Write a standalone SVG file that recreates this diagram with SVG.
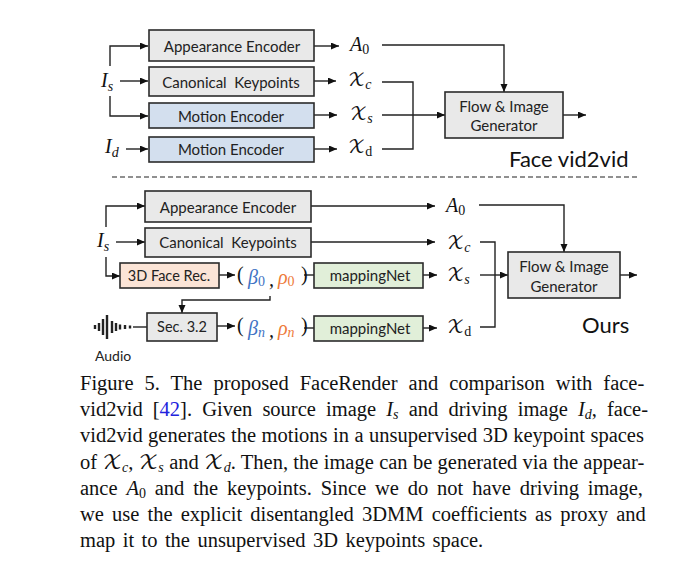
<svg xmlns="http://www.w3.org/2000/svg" width="694" height="586" viewBox="0 0 694 586">
<style>
.b{stroke:#2b2b2b;stroke-width:1.6}
.g{fill:#e9e9e9}.u{fill:#d3dfee}.o{fill:#fbe4d6}.n{fill:#e1efd9}
.t{font:15px Lato,sans-serif;fill:#222;text-anchor:middle;white-space:pre}
.l{fill:none;stroke:#222;stroke-width:1.4}
.a{marker-end:url(#ah)}
.m{font:italic 20px "Liberation Serif",serif;fill:#111}
.x{font:18px "DejaVu Math TeX Gyre","Liberation Serif",serif;fill:#111}
.s{font-size:14px}
.r{font:14px "Liberation Serif",serif}
.c{font:20.5px "Liberation Serif",serif;fill:#111}
.h{font:22px Lato,sans-serif;fill:#111}
.bl{fill:#3f73c4}.or{fill:#ee7a3a}
.w{stroke:#222;stroke-width:2.4}
</style>
<defs><marker id="ah" markerWidth="9" markerHeight="8" refX="8" refY="3.5" orient="auto" markerUnits="userSpaceOnUse"><path d="M0 0L8 3.5L0 7Z" fill="#111"/></marker></defs>
<rect width="694" height="586" fill="#fff"/>
<g id="connectors">
<path class="l a" d="M110 66V46H148"/><path class="l a" d="M120 81H148"/><path class="l a" d="M110 96V116H148"/><path class="l a" d="M126 149H148"/>
<path class="l a" d="M314 46H339"/><path class="l a" d="M314 81H336"/><path class="l a" d="M314 115H337"/><path class="l a" d="M314 149H337"/>
<path class="l a" d="M382 45H504V92"/><path class="l" d="M382 82H413V149H382"/><path class="l a" d="M382 115H445"/><path class="l a" d="M563 115H586"/>
<path d="M112 177H638" fill="none" stroke="#222" stroke-width="1.1" stroke-dasharray="5 3"/>
<path class="l a" d="M106 227V206H145"/><path class="l a" d="M116 242H145"/><path class="l a" d="M106 257V276H120"/>
<path class="l a" d="M311 206H435"/><path class="l a" d="M311 242H435"/>
<path class="l a" d="M219 275H235"/><path class="l a" d="M217 326H235"/>
<path class="l a" d="M270 296V300H182V313"/>
<path class="l" d="M133 327H147"/>
<path class="l" d="M304 275H314"/><path class="l" d="M304 328H314"/>
<path class="l a" d="M423 275H437"/><path class="l a" d="M423 328H437"/>
<path class="l a" d="M479 205H564V252"/><path class="l" d="M480 242H495V327H480"/><path class="l a" d="M480 275H508"/><path class="l a" d="M620 275H637"/>
</g>
<g id="audio-wave"><path class="w" d="M95 325V329M99 323V331M103 319V335M107 315V339M112 321V333M116 323V331M120 324.500V329.500M125 325V329M130 325.500V328.500"/></g>
<g id="top-appearance"><rect class="b g" x="149" y="30" width="165" height="31"/><text class="t" x="232" y="51.500">Appearance Encoder</text></g>
<g id="top-canonical"><rect class="b g" x="149" y="67" width="165" height="29"/><text class="t" x="231" y="87.500">Canonical  Keypoints</text></g>
<g id="top-motion-s"><rect class="b u" x="149" y="103" width="165" height="25"/><text class="t" x="231" y="122">Motion Encoder</text></g>
<g id="top-motion-d"><rect class="b u" x="149" y="137" width="165" height="25"/><text class="t" x="231" y="155">Motion Encoder</text></g>
<g id="top-generator"><rect class="b g" x="445" y="92" width="118" height="46"/><text class="t" x="504" y="111.500">Flow &amp; Image</text><text class="t" x="504" y="130.500">Generator</text></g>
<g id="bot-appearance"><rect class="b g" x="145" y="191" width="166" height="31"/><text class="t" x="228" y="212.500">Appearance Encoder</text></g>
<g id="bot-canonical"><rect class="b g" x="145" y="228" width="166" height="29"/><text class="t" x="228" y="247.500">Canonical  Keypoints</text></g>
<g id="bot-face"><rect class="b o" x="120" y="263" width="99" height="25"/><text class="t" x="169" y="281" style="font-size:14.500px">3D Face Rec.</text></g>
<g id="bot-sec"><rect class="b g" x="147" y="313" width="70" height="28"/><text class="t" x="182" y="332" style="font-size:14.500px">Sec. 3.2</text></g>
<g id="bot-map-0"><rect class="b n" x="314" y="263" width="109" height="25"/><text class="t" x="370" y="281">mappingNet</text></g>
<g id="bot-map-n"><rect class="b n" x="314" y="316" width="109" height="25"/><text class="t" x="370" y="334">mappingNet</text></g>
<g id="bot-generator"><rect class="b g" x="508" y="252" width="112" height="46"/><text class="t" x="564" y="271.500">Flow &amp; Image</text><text class="t" x="564" y="291.500">Generator</text></g>
<g id="labels">
<text class="m" x="101" y="87">I<tspan class="s" dy="4">s</tspan></text>
<text class="m" x="105" y="153">I<tspan class="s" dy="4">d</tspan></text>
<text class="m" x="350" y="51">A<tspan class="r" dy="3" font-style="normal">0</tspan></text>
<text class="x" x="348" y="86">𝒳<tspan class="m s" dy="3">c</tspan></text>
<text class="x" x="350" y="120">𝒳<tspan class="m s" dy="3">s</tspan></text>
<text class="x" x="348" y="153">𝒳<tspan class="r" dy="3">d</tspan></text>
<text class="h" x="509" y="167">Face vid2vid</text>
<text class="m" x="97" y="247">I<tspan class="s" dy="4">s</tspan></text>
<text class="m" x="446" y="212">A<tspan class="r" dy="3" font-style="normal">0</tspan></text>
<text class="x" x="447" y="249">𝒳<tspan class="m s" dy="3">c</tspan></text>
<text class="x" x="447" y="281">𝒳<tspan class="m s" dy="3">s</tspan></text>
<text class="x" x="447" y="333">𝒳<tspan class="r" dy="3">d</tspan></text>
<text class="h" x="582" y="333">Ours</text>
<text x="95" y="361" style="font:14px Lato,sans-serif;fill:#222">Audio</text>
<text class="m" x="237" y="281" style="font-style:normal">(</text>
<text class="m bl" x="248" y="284">β<tspan class="r" dy="2" font-style="normal">0</tspan></text>
<text class="m" x="269" y="286">,</text>
<text class="m or" x="278" y="284">ρ<tspan class="r" dy="2" font-style="normal">0</tspan></text>
<text class="m" x="301" y="281" style="font-style:normal">)</text>
<text class="m" x="237" y="332" style="font-style:normal">(</text>
<text class="m bl" x="248" y="335">β<tspan class="s" dy="2">n</tspan></text>
<text class="m" x="269" y="337">,</text>
<text class="m or" x="278" y="335">ρ<tspan class="s" dy="2">n</tspan></text>
<text class="m" x="301" y="332" style="font-style:normal">)</text>
</g>
<g id="caption">
<text class="c" x="80" y="390" word-spacing="5.9">Figure 5. The proposed FaceRender and comparison with face-</text>
<text class="c" x="80" y="416" word-spacing="5">vid2vid [<tspan fill="#2222dd">42</tspan>]. Given source image <tspan font-style="italic">I<tspan font-size="14" dy="3">s</tspan></tspan><tspan dy="-3"> and driving image </tspan><tspan font-style="italic">I<tspan font-size="14" dy="3">d</tspan></tspan><tspan dy="-3">, face-</tspan></text>
<text class="c" x="80" y="442" word-spacing="0.35">vid2vid generates the motions in a unsupervised 3D keypoint spaces</text>
<text class="c" x="80" y="468.500" word-spacing="0.2">of <tspan font-family="DejaVu Math TeX Gyre">𝒳</tspan><tspan font-size="14" font-style="italic" dy="3">c</tspan><tspan dy="-3">, </tspan><tspan font-family="DejaVu Math TeX Gyre">𝒳</tspan><tspan font-size="14" font-style="italic" dy="3">s</tspan><tspan dy="-3"> and </tspan><tspan font-family="DejaVu Math TeX Gyre">𝒳</tspan><tspan font-size="14" font-style="italic" dy="3">d</tspan><tspan dy="-3">. Then, the image can be generated via the appear-</tspan></text>
<text class="c" x="80" y="494.500" word-spacing="3.7">ance <tspan font-style="italic">A</tspan><tspan font-size="14" dy="3">0</tspan><tspan dy="-3"> and the keypoints. Since we do not have driving image,</tspan></text>
<text class="c" x="80" y="521" word-spacing="3">we use the explicit disentangled 3DMM coefficients as proxy and</text>
<text class="c" x="80" y="547" word-spacing="2.3">map it to the unsupervised 3D keypoints space.</text>
</g>
</svg>
